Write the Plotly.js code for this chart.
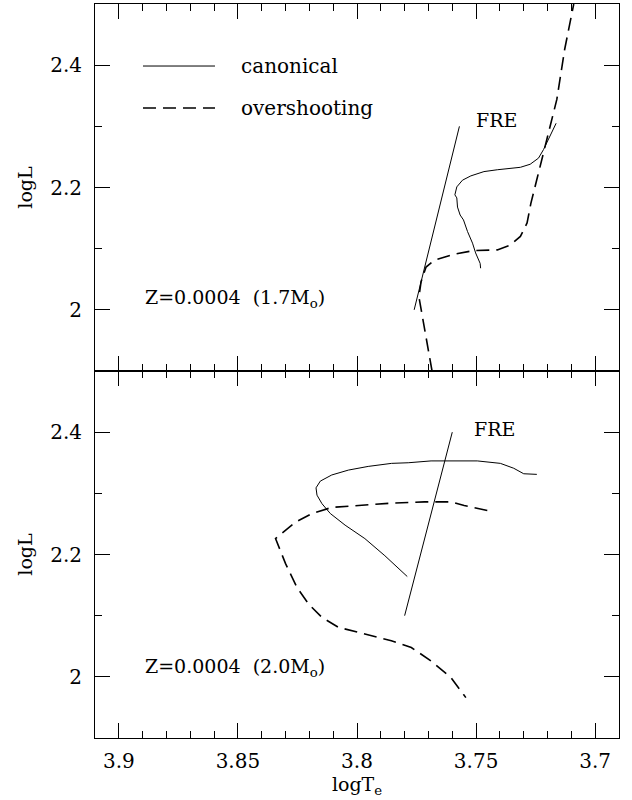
<!DOCTYPE html>
<html>
<head>
<meta charset="utf-8">
<script src="https://cdn.plot.ly/plotly-3.0.1.min.js"></script>
<style>html,body{margin:0;padding:0;background:#fff;}</style>
</head>
<body>
<div id="chart" style="width:632px;height:800px;"></div>
<script>
// ---- Top panel: Z=0.0004, 1.7 Msun ----
const topCanX = [3.7481, 3.7483, 3.7502, 3.7515, 3.7536, 3.7553, 3.7567, 3.7578, 3.7581, 3.7589, 3.7581, 3.7557, 3.7522, 3.7467, 3.7411, 3.7314, 3.7273, 3.7238, 3.7217, 3.7196, 3.7164];
const topCanY = [2.068, 2.076, 2.093, 2.109, 2.128, 2.147, 2.155, 2.168, 2.183, 2.188, 2.201, 2.212, 2.219, 2.226, 2.229, 2.233, 2.238, 2.248, 2.262, 2.278, 2.305];
const topOvX = [3.7685, 3.7703, 3.7724, 3.7740, 3.7731, 3.7710, 3.7675, 3.7592, 3.7508, 3.7411, 3.7356, 3.7314, 3.7286, 3.7270, 3.7245, 3.7217, 3.7196, 3.7175, 3.7161, 3.7128, 3.7090];
const topOvY = [1.900, 1.939, 1.983, 2.021, 2.046, 2.070, 2.081, 2.091, 2.097, 2.098, 2.106, 2.120, 2.142, 2.174, 2.213, 2.256, 2.289, 2.322, 2.344, 2.426, 2.500];
const topFreX = [3.776, 3.757];
const topFreY = [2.0, 2.3];

// ---- Bottom panel: Z=0.0004, 2.0 Msun ----
const botCanX = [3.7245, 3.7300, 3.7342, 3.7398, 3.7495, 3.7578, 3.7689, 3.7785, 3.7855, 3.7953, 3.8036, 3.8106, 3.8154, 3.8172, 3.8168, 3.8147, 3.8112, 3.8050, 3.7967, 3.7883, 3.7789];
const botCanY = [2.331, 2.332, 2.341, 2.349, 2.353, 2.353, 2.353, 2.350, 2.349, 2.344, 2.338, 2.330, 2.320, 2.309, 2.297, 2.283, 2.267, 2.248, 2.226, 2.198, 2.164];
const botOvX = [3.7453, 3.7550, 3.7606, 3.7717, 3.7856, 3.7995, 3.8106, 3.8189, 3.8258, 3.8342, 3.8300, 3.8252, 3.8203, 3.8147, 3.8078, 3.7967, 3.7856, 3.7772, 3.7689, 3.7606, 3.7543];
const botOvY = [2.272, 2.280, 2.286, 2.286, 2.284, 2.280, 2.277, 2.267, 2.253, 2.226, 2.185, 2.146, 2.119, 2.097, 2.081, 2.070, 2.059, 2.048, 2.026, 1.999, 1.966];
const botFreX = [3.780, 3.760];
const botFreY = [2.1, 2.4];

const seriesNames = ["canonical", "overshooting"];
const panelLabels = ["Z=0.0004  (1.7M<sub>o</sub>)", "Z=0.0004  (2.0M<sub>o</sub>)"];
const freLabel = "FRE";

const FONT = "DejaVu Serif, Liberation Serif, serif";
const solid = {color: "black", width: 1};
const dashed = {color: "black", width: 1.6, dash: "13px,7px"};

const traces = [
  {x: topCanX, y: topCanY, xaxis: "x2", yaxis: "y2", mode: "lines", line: solid, name: seriesNames[0], showlegend: false},
  {x: topOvX, y: topOvY, xaxis: "x2", yaxis: "y2", mode: "lines", line: dashed, name: seriesNames[1], showlegend: false},
  {x: topFreX, y: topFreY, xaxis: "x2", yaxis: "y2", mode: "lines", line: solid, name: freLabel, showlegend: false},
  {x: botCanX, y: botCanY, xaxis: "x", yaxis: "y", mode: "lines", line: solid, name: seriesNames[0], showlegend: false},
  {x: botOvX, y: botOvY, xaxis: "x", yaxis: "y", mode: "lines", line: dashed, name: seriesNames[1], showlegend: false},
  {x: botFreX, y: botFreY, xaxis: "x", yaxis: "y", mode: "lines", line: solid, name: freLabel, showlegend: false}
];

const xCommon = {
  range: [3.91, 3.69], tick0: 3.7, dtick: 0.05,
  ticks: "inside", ticklen: 15, tickwidth: 1, tickcolor: "black",
  minor: {dtick: 0.01, ticks: "inside", ticklen: 7, tickwidth: 1, tickcolor: "black"},
  showline: true, linecolor: "black", linewidth: 1, mirror: "ticks",
  showgrid: false, zeroline: false,
  tickfont: {family: FONT, size: 20, color: "black"}
};
const yCommon = {
  range: [1.9, 2.5], tick0: 2.0, dtick: 0.2,
  ticks: "inside", ticklen: 15, tickwidth: 1, tickcolor: "black",
  minor: {dtick: 0.1, ticks: "inside", ticklen: 7, tickwidth: 1, tickcolor: "black"},
  showline: true, linecolor: "black", linewidth: 1, mirror: "ticks",
  showgrid: false, zeroline: false,
  ticklabelstandoff: 8,
  tickfont: {family: FONT, size: 20, color: "black"},
  title: {text: "logL", font: {family: FONT, size: 19, color: "black"}, standoff: 12}
};

const layout = {
  width: 632, height: 800,
  margin: {l: 95, r: 13, t: 4, b: 62},
  paper_bgcolor: "white", plot_bgcolor: "white",
  showlegend: false,
  font: {family: FONT, size: 19, color: "black"},
  xaxis: Object.assign({}, xCommon, {anchor: "y", domain: [0, 1], ticklabelstandoff: 5,
    title: {text: "logT<sub>e</sub>", font: {family: FONT, size: 19, color: "black"}, standoff: 4}}),
  xaxis2: Object.assign({}, xCommon, {anchor: "y2", matches: "x", showticklabels: false}),
  yaxis: Object.assign({}, yCommon, {anchor: "x", domain: [0, 0.5]}),
  yaxis2: Object.assign({}, yCommon, {anchor: "x2", domain: [0.5, 1]}),
  shapes: [
    {type: "line", xref: "paper", yref: "paper", x0: 0.0916, x1: 0.229, y0: 0.9155, y1: 0.9155, line: solid},
    {type: "line", xref: "paper", yref: "paper", x0: 0.0916, x1: 0.229, y0: 0.8583, y1: 0.8583, line: dashed}
  ],
  annotations: [
    {xref: "paper", yref: "paper", x: 0.275, y: 0.9155, text: seriesNames[0], showarrow: false, xanchor: "left", yanchor: "middle", font: {family: FONT, size: 20, color: "black"}},
    {xref: "paper", yref: "paper", x: 0.275, y: 0.8583, text: seriesNames[1], showarrow: false, xanchor: "left", yanchor: "middle", font: {family: FONT, size: 20, color: "black"}},
    {xref: "x2", yref: "y2", x: 3.8897, y: 2.018, text: panelLabels[0], showarrow: false, xanchor: "left", yanchor: "middle", font: {family: FONT, size: 19, color: "black"}},
    {xref: "x", yref: "y", x: 3.8897, y: 2.015, text: panelLabels[1], showarrow: false, xanchor: "left", yanchor: "middle", font: {family: FONT, size: 19, color: "black"}},
    {xref: "x2", yref: "y2", x: 3.7416, y: 2.31, text: freLabel, showarrow: false, xanchor: "center", yanchor: "middle", font: {family: FONT, size: 19, color: "black"}},
    {xref: "x", yref: "y", x: 3.7422, y: 2.4056, text: freLabel, showarrow: false, xanchor: "center", yanchor: "middle", font: {family: FONT, size: 19, color: "black"}}
  ]
};

Plotly.newPlot("chart", traces, layout, {displayModeBar: false, staticPlot: true});
</script>
</body>
</html>
